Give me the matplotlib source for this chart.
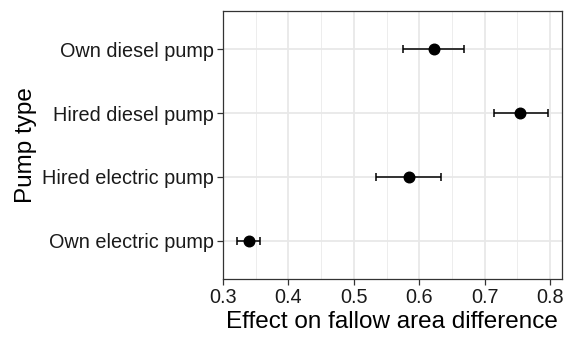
import matplotlib
matplotlib.use("Agg")
import matplotlib.pyplot as plt
from matplotlib.ticker import MultipleLocator

plt.rcParams['font.family'] = ['Liberation Sans', 'DejaVu Sans']

categories = ["Own electric pump", "Hired electric pump", "Hired diesel pump", "Own diesel pump"]
estimates = [0.340, 0.584, 0.754, 0.622]
lower = [0.322, 0.534, 0.714, 0.575]
upper = [0.357, 0.633, 0.796, 0.668]
xticks = [0.3, 0.4, 0.5, 0.6, 0.7, 0.8]

fig = plt.figure(figsize=(5.64, 3.37), dpi=100)
ax = fig.add_axes([0.3949, 0.1712, 0.6010, 0.7970])

ypos = list(range(1, len(categories) + 1))
xerr = [[e - l for e, l in zip(estimates, lower)], [u - e for e, u in zip(estimates, upper)]]

ax.set_axisbelow(True)
ax.errorbar(estimates, ypos, xerr=xerr, fmt='none', ecolor='black', elinewidth=1.1,
            capsize=2.6, capthick=1.1, zorder=3)
ax.plot(estimates, ypos, 'o', color='black', markersize=7.6, zorder=4)

ax.set_xlim(0.2995, 0.8176)
ax.set_ylim(0.4, 4.6)
ax.set_xticks(xticks)
ax.set_xticklabels([f"{t:.1f}" for t in xticks])
ax.xaxis.set_minor_locator(MultipleLocator(0.05))
ax.set_yticks(ypos)
ax.set_yticklabels(categories)

ax.grid(which='major', color='#e8e8e8', linewidth=1.3)
ax.grid(which='minor', axis='x', color='#ededed', linewidth=0.7)
ax.tick_params(which='minor', length=0)
ax.tick_params(which='major', length=4.5, width=0.9, color='#333333', labelsize=14.3,
               labelcolor='#1a1a1a', pad=1.8)
for s in ax.spines.values():
    s.set_color('#333333')
    s.set_linewidth(0.9)

ax.set_xlabel("Effect on fallow area difference", fontsize=17.5, color='black', labelpad=2.5)
ax.set_ylabel("Pump type", fontsize=17.5, color='black', labelpad=4)

fig.savefig("out.png", dpi=100)
